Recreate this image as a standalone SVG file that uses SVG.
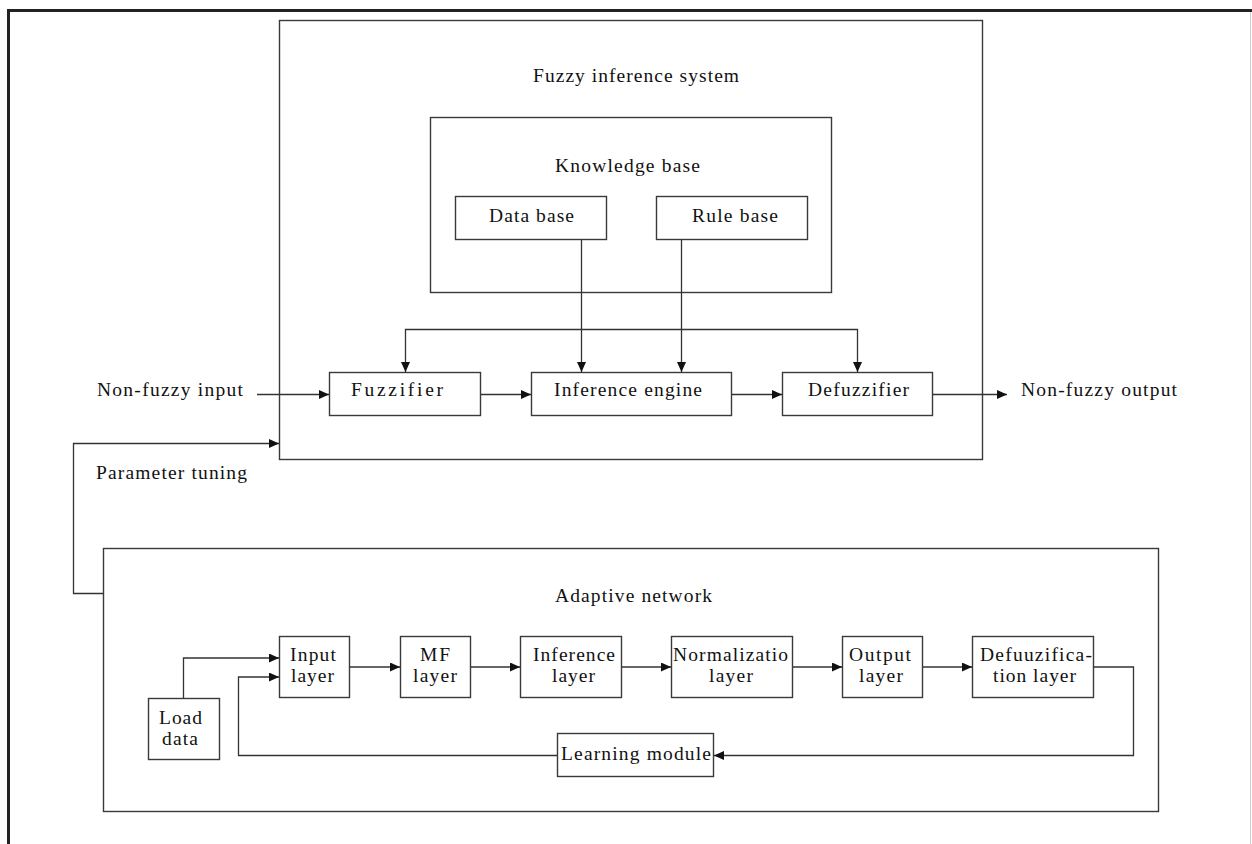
<svg xmlns="http://www.w3.org/2000/svg" width="1252" height="844" viewBox="0 0 1252 844">
<style>
.box{fill:#fff;stroke:#3a3a3a;stroke-width:1.4}
.frame{fill:none;stroke:#3a3a3a;stroke-width:1.4}
.t{font-family:"Liberation Serif","Times New Roman",serif;font-size:19.5px;fill:#111}
.c{fill:none;stroke:#333;stroke-width:1.3}
</style>
<defs>
<marker id="ah" markerUnits="userSpaceOnUse" markerWidth="11" markerHeight="10" refX="10" refY="4.5" orient="auto">
<path d="M0,0 L10,4.5 L0,9 z" fill="#111"/>
</marker>
</defs>
<rect width="1252" height="844" fill="#fff"/>
<g id="page-frame">
<line x1="7" y1="10.5" x2="1252" y2="10.5" stroke="#222" stroke-width="3"/>
<line x1="8.5" y1="9" x2="8.5" y2="844" stroke="#222" stroke-width="3"/>
<line x1="1250.5" y1="12" x2="1250.5" y2="844" stroke="#ccc" stroke-width="1"/>
</g>
<g id="fuzzy-inference-system">
<rect class="frame" x="279.5" y="20.5" width="703" height="439"/>
<text class="t" x="533" y="82" textLength="206" lengthAdjust="spacing">Fuzzy inference system</text>
</g>
<g id="knowledge-base">
<rect class="frame" x="430.5" y="117.5" width="401" height="175"/>
<text class="t" x="555" y="172" textLength="145" lengthAdjust="spacing">Knowledge base</text>
</g>
<g id="data-base">
<rect class="box" x="455.5" y="196.5" width="151" height="43"/>
<text class="t" x="489" y="222" textLength="85" lengthAdjust="spacing">Data base</text>
</g>
<g id="rule-base">
<rect class="box" x="656.5" y="196.5" width="151" height="43"/>
<text class="t" x="692" y="222" textLength="86" lengthAdjust="spacing">Rule base</text>
</g>
<g id="fuzzifier">
<rect class="box" x="329.5" y="372.5" width="151" height="43"/>
<text class="t" x="351" y="396" textLength="92" lengthAdjust="spacing">Fuzzifier</text>
</g>
<g id="inference-engine">
<rect class="box" x="531.5" y="372.5" width="200" height="43"/>
<text class="t" x="554" y="396" textLength="148" lengthAdjust="spacing">Inference engine</text>
</g>
<g id="defuzzifier">
<rect class="box" x="782.5" y="372.5" width="150" height="43"/>
<text class="t" x="808" y="396" textLength="101" lengthAdjust="spacing">Defuzzifier</text>
</g>
<g id="non-fuzzy-input">
<text class="t" x="97" y="396" textLength="146" lengthAdjust="spacing">Non-fuzzy input</text>
</g>
<g id="non-fuzzy-output">
<text class="t" x="1021" y="396" textLength="156" lengthAdjust="spacing">Non-fuzzy output</text>
</g>
<g id="parameter-tuning">
<text class="t" x="96" y="479" textLength="151" lengthAdjust="spacing">Parameter tuning</text>
</g>
<g id="adaptive-network">
<rect class="frame" x="103.5" y="548.5" width="1055" height="263"/>
<text class="t" x="555" y="602" textLength="157" lengthAdjust="spacing">Adaptive network</text>
</g>
<g id="load-data">
<rect class="box" x="148.5" y="698.5" width="71" height="61"/>
<text class="t" x="159" y="724" textLength="43" lengthAdjust="spacing">Load</text>
<text class="t" x="162" y="745" textLength="36" lengthAdjust="spacing">data</text>
</g>
<g id="input-layer">
<rect class="box" x="279.5" y="636.5" width="70" height="61"/>
<text class="t" x="290" y="661" textLength="46" lengthAdjust="spacing">Input</text>
<text class="t" x="291" y="682" textLength="43" lengthAdjust="spacing">layer</text>
</g>
<g id="mf-layer">
<rect class="box" x="400.5" y="636.5" width="70" height="61"/>
<text class="t" x="420" y="661" textLength="30" lengthAdjust="spacing">MF</text>
<text class="t" x="413" y="682" textLength="44" lengthAdjust="spacing">layer</text>
</g>
<g id="inference-layer">
<rect class="box" x="520.5" y="636.5" width="101" height="61"/>
<text class="t" x="533" y="661" textLength="82" lengthAdjust="spacing">Inference</text>
<text class="t" x="552" y="682" textLength="43" lengthAdjust="spacing">layer</text>
</g>
<g id="normalization-layer">
<rect class="box" x="671.5" y="636.5" width="121" height="61"/>
<text class="t" x="673" y="661" textLength="115" lengthAdjust="spacing">Normalizatio</text>
<text class="t" x="709" y="682" textLength="44" lengthAdjust="spacing">layer</text>
</g>
<g id="output-layer">
<rect class="box" x="842.5" y="636.5" width="80" height="61"/>
<text class="t" x="849" y="661" textLength="62" lengthAdjust="spacing">Output</text>
<text class="t" x="859" y="682" textLength="44" lengthAdjust="spacing">layer</text>
</g>
<g id="defuzzification-layer">
<rect class="box" x="972.5" y="636.5" width="121" height="61"/>
<text class="t" x="980" y="661" textLength="112" lengthAdjust="spacing">Defuuzifica-</text>
<text class="t" x="993" y="682" textLength="83" lengthAdjust="spacing">tion layer</text>
</g>
<g id="learning-module">
<rect class="box" x="557.5" y="733.5" width="156" height="43"/>
<text class="t" x="561" y="760" textLength="150" lengthAdjust="spacing">Learning module</text>
</g>
<g id="connectors">
<path class="c" d="M257,394.5 H329" marker-end="url(#ah)"/>
<path class="c" d="M481,394.5 H531" marker-end="url(#ah)"/>
<path class="c" d="M732,394.5 H782" marker-end="url(#ah)"/>
<path class="c" d="M933,394.5 H1007" marker-end="url(#ah)"/>
<path class="c" d="M581.5,240 V372" marker-end="url(#ah)"/>
<path class="c" d="M681.5,240 V372" marker-end="url(#ah)"/>
<path class="c" d="M631,329.5 H405.5 V372" marker-end="url(#ah)"/>
<path class="c" d="M631,329.5 H857.5 V372" marker-end="url(#ah)"/>
<path class="c" d="M103,593.5 H73.5 V443.5 H279" marker-end="url(#ah)"/>
<path class="c" d="M183.5,698 V658 H279" marker-end="url(#ah)"/>
<path class="c" d="M557,755.5 H238.5 V677 H279" marker-end="url(#ah)"/>
<path class="c" d="M350,667 H400" marker-end="url(#ah)"/>
<path class="c" d="M471,667 H520" marker-end="url(#ah)"/>
<path class="c" d="M622,667 H671" marker-end="url(#ah)"/>
<path class="c" d="M793,667 H842" marker-end="url(#ah)"/>
<path class="c" d="M923,667 H972" marker-end="url(#ah)"/>
<path class="c" d="M1094,667 H1133.5 V755.5 H714" marker-end="url(#ah)"/>
</g>
</svg>
